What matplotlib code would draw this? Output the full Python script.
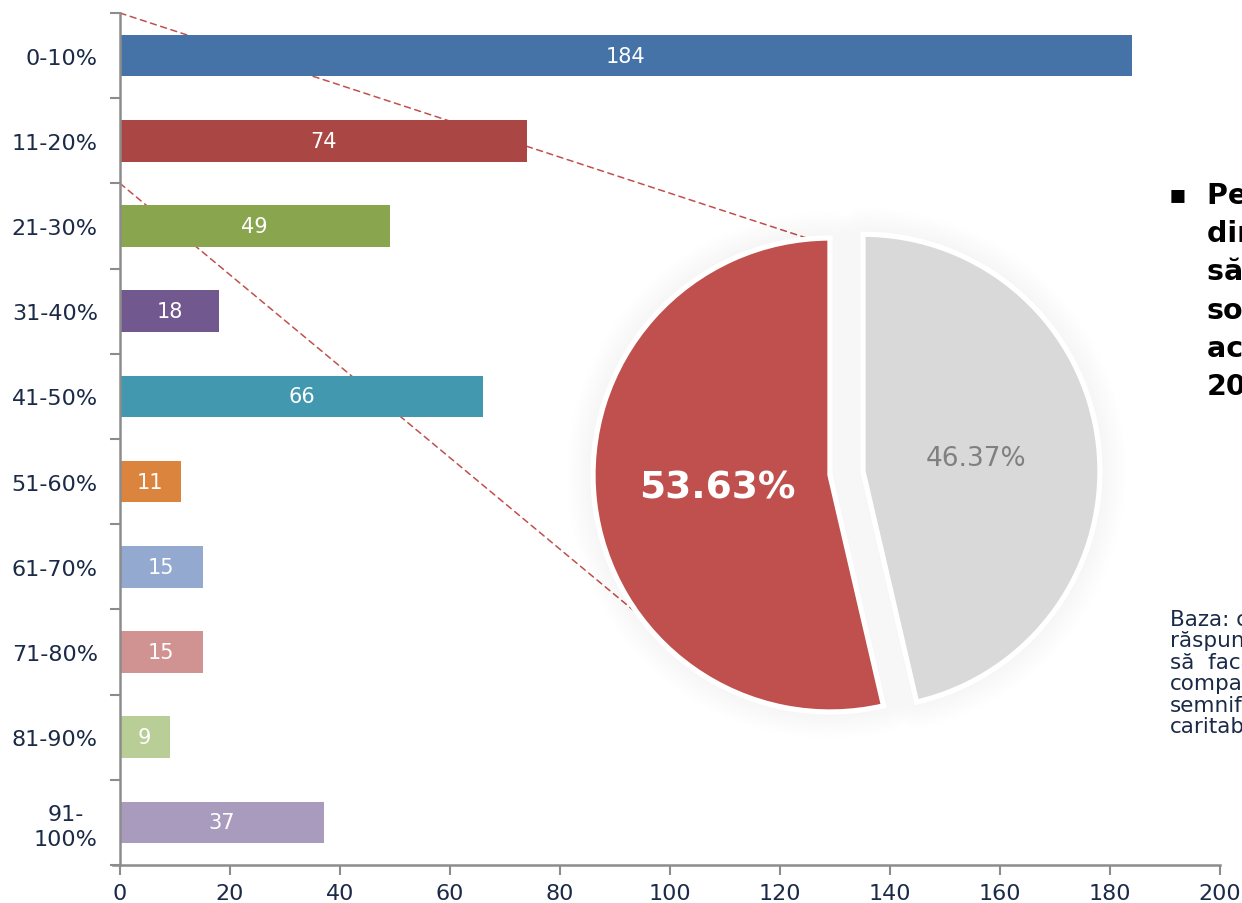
import matplotlib.pyplot as plt
from matplotlib.patches import ConnectionPatch, Wedge
import numpy as np

plt.rcParams['font.family'] = ['DejaVu Sans']

# bar data
categories = ['0-10%', '11-20%', '21-30%', '31-40%', '41-50%',
              '51-60%', '61-70%', '71-80%', '81-90%', '91-\n100%']
counts = [184, 74, 49, 18, 66, 11, 15, 15, 9, 37]
bar_colors = ['#4572A7', '#AA4643', '#89A54E', '#71588F', '#4198AF',
              '#DB843D', '#93A9CF', '#D19392', '#B9CD96', '#A99BBD']

# pie data
pie_values = [53.63, 46.37]
pie_colors = ['#C0504D', '#D9D9D9']

# side text
bold_lines = ['Peste jumătate', 'dintre companii', 'să facă', 'sociale', 'acest an', '2011']
base_lines = ['Baza: companiile', 'răspuns', 'să  facă', 'companii', 'semnificative', 'caritabile']

navy = '#1B2A47'
grey = '#8C8C8C'

W, H = 1242, 904
fig = plt.figure(figsize=(W / 100, H / 100), dpi=100)
ax = fig.add_axes([120 / W, 38 / H, 1100 / W, 852 / H])

y = np.arange(len(categories))
bars = ax.barh(y, counts, height=0.49, color=bar_colors, zorder=2)
ax.bar_label(bars, labels=[str(c) for c in counts], label_type='center',
             color='white', fontsize=15)

ax.set_xlim(0, 200)
ax.set_ylim(len(categories) - 0.5, -0.5)
ax.set_xticks(np.arange(0, 201, 20))
ax.set_yticks(y)
ax.set_yticklabels(categories, linespacing=1.3, multialignment='center')
ax.set_yticks(np.arange(-0.5, len(categories), 1), minor=True)
ax.tick_params(axis='y', which='major', length=0, pad=16, labelsize=16, labelcolor=navy)
ax.tick_params(axis='y', which='minor', length=7, width=1.5, color=grey, direction='out')
ax.tick_params(axis='x', length=7, width=1.5, color=grey, direction='out',
               labelsize=16, labelcolor=navy, pad=6)
for s in ['top', 'right']:
    ax.spines[s].set_visible(False)
for s in ['left', 'bottom']:
    ax.spines[s].set_color(grey)
    ax.spines[s].set_linewidth(1.8)
ax.spines['bottom'].set_bounds(-1.3, 200)
ax.set_facecolor('none')

# pie overlay
cx, cy, R = 830, 904 - 476, 237
half = 320
ax2 = fig.add_axes([(cx - half) / W, (cy - half) / H, 2 * half / W, 2 * half / H])
wedges, texts, autotexts = ax2.pie(
    pie_values, colors=pie_colors, startangle=90, explode=[0, 0.14],
    autopct='%.2f%%', pctdistance=0.48,
    wedgeprops=dict(edgecolor='white', linewidth=3.8, zorder=3))
# soft shadow behind the slices
for w in wedges:
    for lw in np.arange(6, 40, 4):
        ax2.add_patch(Wedge(w.center, w.r, w.theta1, w.theta2, facecolor='none',
                            edgecolor='black', alpha=0.005, linewidth=lw,
                            joinstyle='round', zorder=1))
autotexts[0].set_color('white')
autotexts[0].set_fontsize(27)
autotexts[0].set_fontweight('bold')
autotexts[1].set_color('#808080')
autotexts[1].set_fontsize(19)
for t in autotexts:
    t.set_zorder(4)
lim = half / R
ax2.set_xlim(-lim, lim)
ax2.set_ylim(-lim, lim)
ax2.axis('off')

# dashed connectors from the first two bars to the pie
for yv, ang in [(-0.5, 95), (1.5, 216)]:
    con = ConnectionPatch(xyA=(0, yv), coordsA=ax.transData,
                          xyB=(np.cos(np.radians(ang)), np.sin(np.radians(ang))),
                          coordsB=ax2.transData,
                          color='#C0504D', linestyle=(0, (4, 3)), linewidth=1.1, zorder=1)
    ax.add_artist(con)

# right side text (cut by the figure edge)
fig.text(1178 / W, 1 - 195 / H, '▪', fontsize=19, ha='center', va='center')
for i, line in enumerate(bold_lines):
    fig.text(1207 / W, 1 - (196 + i * 38.2) / H, line, fontsize=20.5, fontweight='bold',
             color='black', ha='left', va='center')
for i, line in enumerate(base_lines):
    fig.text(1170 / W, 1 - (620 + i * 21.4) / H, line, fontsize=15.5, color=navy,
             ha='left', va='center')

fig.savefig('out.png', dpi=100)
